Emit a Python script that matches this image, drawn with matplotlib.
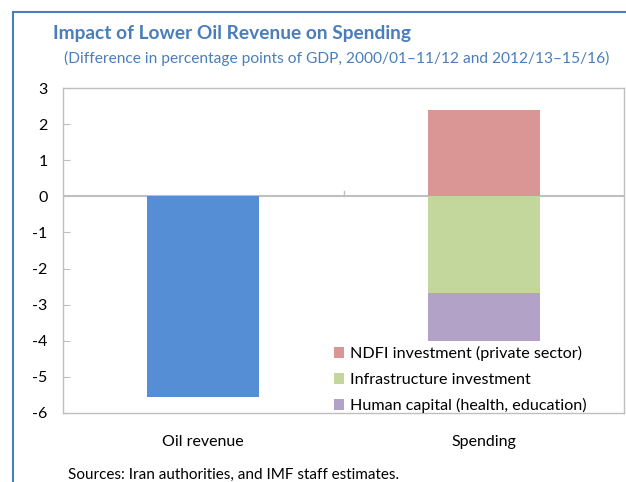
import matplotlib
matplotlib.use("Agg")
import matplotlib.pyplot as plt
from matplotlib.patches import Patch
from matplotlib.lines import Line2D

plt.rcParams['font.family'] = ['Lato', 'DejaVu Sans']

categories = ["Oil revenue", "Spending"]
oil_revenue = [-5.55, 0]
ndfi = [0, 2.38]
infrastructure = [0, -2.67]
human_capital = [0, -1.33]
series_labels = ["NDFI investment (private sector)", "Infrastructure investment",
                 "Human capital (health, education)"]
yticks = [3, 2, 1, 0, -1, -2, -3, -4, -5, -6]

c_blue = "#558ED5"
c_red = "#D99694"
c_green = "#C3D69B"
c_purple = "#B3A2C7"
c_title = "#4A7EBB"

fig = plt.figure(figsize=(6.26, 4.82), dpi=100)
W, H = 626, 482
ax = fig.add_axes([63 / W, 1 - 413 / H, (624 - 63) / W, (413 - 88) / H])

x = [0, 1]
w = 0.4
ax.bar(x[0], oil_revenue[0], width=w, color=c_blue, zorder=2)
ax.bar(x[1], ndfi[1], width=w, color=c_red, zorder=2)
ax.bar(x[1], infrastructure[1], width=w, color=c_green, zorder=2)
ax.bar(x[1], human_capital[1], width=w, bottom=infrastructure[1], color=c_purple, zorder=2)

ax.set_xlim(-0.5, 1.5)
ax.set_ylim(-6, 3)
ax.set_yticks(yticks)
ax.set_yticklabels([str(v) for v in yticks], fontsize=11.5)
ax.tick_params(axis='y', direction='in', length=5, color='#BFBFBF', pad=11)
ax.set_xticks([])
for s in ax.spines.values():
    s.set_color('#BFBFBF')
    s.set_linewidth(1)

ax.axhline(0, color='#BFBFBF', lw=1.5, zorder=1)
ax.plot([0.5, 0.5], [0, 0.15], color='#BFBFBF', lw=1, zorder=1)

for xi, lab in zip(x, categories):
    ax.text(xi, -6.6, lab, ha='center', va='top', fontsize=11.5)

handles = [Patch(facecolor=c, edgecolor='none') for c in (c_red, c_green, c_purple)]
leg = ax.legend(handles, series_labels, loc='lower right', bbox_to_anchor=(0.96, -0.045),
                frameon=False, fontsize=11.6, handlelength=0.65, handleheight=0.65,
                handletextpad=0.4, labelspacing=0.7)

fig.add_artist(Line2D([13 / W, 13 / W], [0, 1 - 12 / H], color=c_title, lw=1.5))
fig.add_artist(Line2D([13 / W, 1], [1 - 12 / H, 1 - 12 / H], color=c_title, lw=1.5))

fig.text(53 / W, 1 - 33 / H, "Impact of Lower Oil Revenue on Spending", fontsize=13.8,
         fontweight='bold', color=c_title, va='center', ha='left')
fig.text(64 / W, 1 - 58 / H, "(Difference in percentage points of GDP, 2000/01\u201311/12 and 2012/13\u201315/16)",
         fontsize=11.2, color=c_title, va='center', ha='left')
fig.text(68 / W, 1 - 475 / H, "Sources: Iran authorities, and IMF staff estimates.",
         fontsize=11, va='center', ha='left')

fig.savefig("out.png", dpi=100)
